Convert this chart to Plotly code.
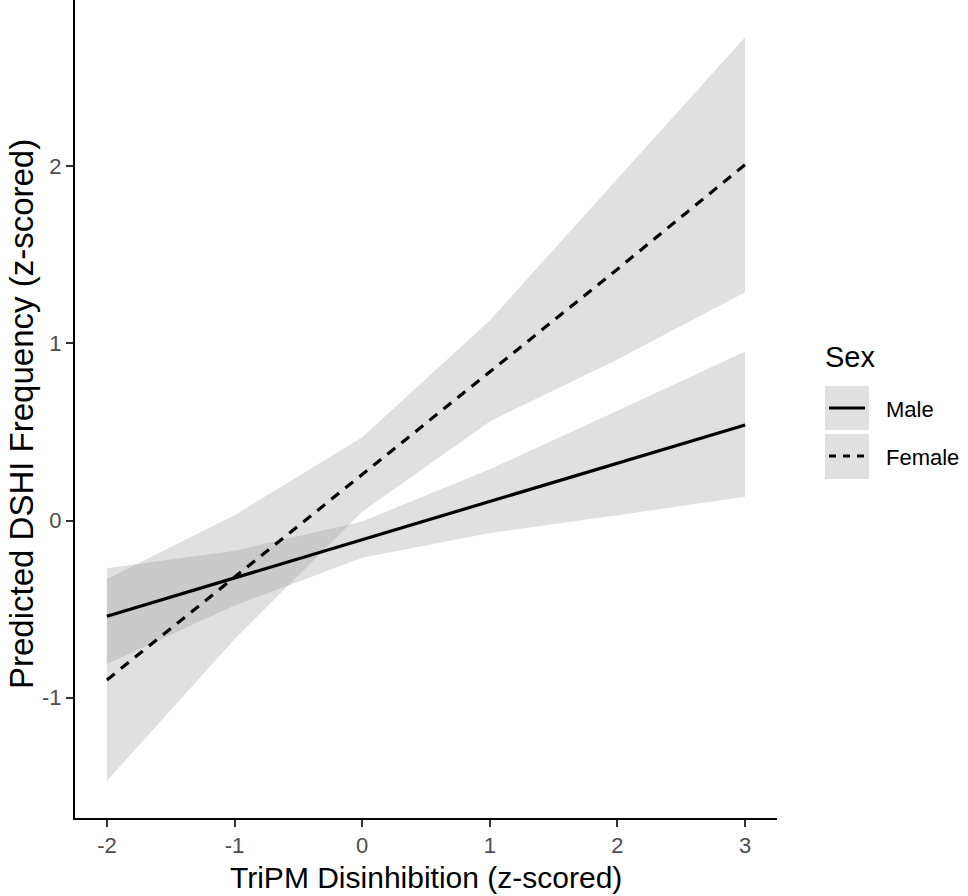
import plotly.graph_objects as go

# ---- data ----
x_vals = [-2, -1, 0, 1, 2, 3]

male_fit = [-0.54, -0.324, -0.108, 0.108, 0.324, 0.54]
male_upper = [-0.27, -0.17, -0.005, 0.29, 0.62, 0.955]
male_lower = [-0.81, -0.48, -0.21, -0.07, 0.03, 0.135]

female_fit = [-0.90, -0.32, 0.26, 0.84, 1.42, 2.01]
female_upper = [-0.33, 0.03, 0.47, 1.13, 1.93, 2.73]
female_lower = [-1.47, -0.67, 0.05, 0.56, 0.91, 1.29]

x_ticks = [-2, -1, 0, 1, 2, 3]
y_ticks = [-1, 0, 1, 2]

series_names = ["Male", "Female"]
x_title = "TriPM Disinhibition (z-scored)"
y_title = "Predicted DSHI Frequency (z-scored)"
legend_title = "Sex"

FONT = "Liberation Sans, Arial, sans-serif"
BAND = "rgba(153,153,153,0.3)"

fig = go.Figure()

for up, lo in [(male_upper, male_lower), (female_upper, female_lower)]:
    fig.add_trace(go.Scatter(
        x=x_vals + x_vals[::-1],
        y=up + lo[::-1],
        fill="toself", fillcolor=BAND,
        line=dict(width=0), mode="lines",
        hoverinfo="skip", showlegend=False,
    ))

fig.add_trace(go.Scatter(
    x=x_vals, y=male_fit, mode="lines", name=series_names[0],
    line=dict(color="black", width=3.2), showlegend=False,
))
fig.add_trace(go.Scatter(
    x=x_vals, y=female_fit, mode="lines", name=series_names[1],
    line=dict(color="black", width=3.2, dash="10px,8px"), showlegend=False,
))

# ---- manual legend and titles (ggplot style) ----
L, R, T, B = 75, 191, 0, 78
PW, PH = 968 - L - R, 896 - T - B


def px_x(p):
    return (p - L) / PW


def px_y(p):
    return (896 - B - p) / PH


shapes = [
    dict(type="rect", xref="paper", yref="paper",
         x0=px_x(825), x1=px_x(869), y0=px_y(430), y1=px_y(386),
         fillcolor="#E0E0E0", line=dict(width=0)),
    dict(type="rect", xref="paper", yref="paper",
         x0=px_x(825), x1=px_x(869), y0=px_y(479), y1=px_y(434),
         fillcolor="#E0E0E0", line=dict(width=0)),
    dict(type="line", xref="paper", yref="paper",
         x0=px_x(829), x1=px_x(865), y0=px_y(408), y1=px_y(408),
         line=dict(color="black", width=3.2)),
    dict(type="line", xref="paper", yref="paper",
         x0=px_x(829), x1=px_x(865), y0=px_y(456), y1=px_y(456),
         line=dict(color="black", width=3.2, dash="7px,7px")),
]

annotations = [
    dict(text=legend_title, xref="paper", yref="paper", x=px_x(823), y=px_y(357),
         xanchor="left", yanchor="middle", showarrow=False,
         font=dict(family=FONT, size=29, color="black")),
    dict(text=series_names[0], xref="paper", yref="paper", x=px_x(884), y=px_y(409),
         xanchor="left", yanchor="middle", showarrow=False,
         font=dict(family=FONT, size=22, color="black")),
    dict(text=series_names[1], xref="paper", yref="paper", x=px_x(884), y=px_y(457),
         xanchor="left", yanchor="middle", showarrow=False,
         font=dict(family=FONT, size=22, color="black")),
    dict(text=x_title, xref="paper", yref="paper", x=px_x(426), y=px_y(877),
         xanchor="center", yanchor="middle", showarrow=False,
         font=dict(family=FONT, size=30, color="black")),
    dict(text=y_title, xref="paper", yref="paper", x=px_x(21), y=px_y(414),
         xanchor="center", yanchor="middle", showarrow=False, textangle=-90,
         font=dict(family=FONT, size=33, color="black")),
]

fig.update_layout(
    width=968, height=896,
    margin=dict(l=L, r=R, t=T, b=B, pad=0, autoexpand=False),
    paper_bgcolor="white", plot_bgcolor="white",
    font=dict(family=FONT),
    shapes=shapes, annotations=annotations,
    showlegend=False,
)

fig.update_xaxes(
    range=[-2.25, 3.25], tickvals=x_ticks, ticktext=[str(v) for v in x_ticks],
    showgrid=False, zeroline=False, showline=True, linecolor="black", linewidth=2,
    ticks="outside", ticklen=7, tickwidth=2, tickcolor="#333333",
    tickfont=dict(family=FONT, size=22, color="#4D4D4D"), automargin=False,
)
fig.update_yaxes(
    range=[-1.68, 2.94], tickvals=y_ticks, ticktext=[str(v) for v in y_ticks],
    showgrid=False, zeroline=False, showline=True, linecolor="black", linewidth=2,
    ticks="outside", ticklen=7, tickwidth=2, tickcolor="#333333",
    tickfont=dict(family=FONT, size=22, color="#4D4D4D"), automargin=False,
)

fig.write_html(
    "out.html",
    config={"displayModeBar": False},
    post_script="document.body.style.margin='0';document.body.style.overflow='hidden';",
)
